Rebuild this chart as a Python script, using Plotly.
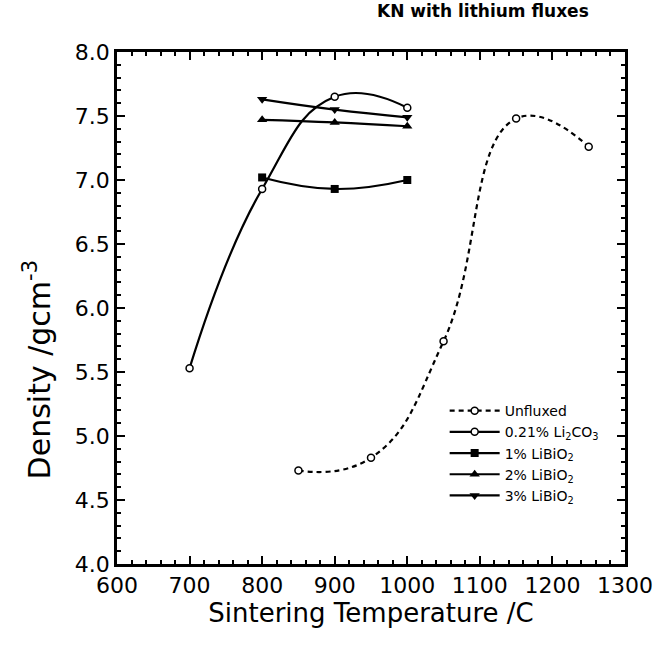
import plotly.graph_objects as go

# Data
temp_unfluxed = [850, 950, 1050, 1150, 1250]
dens_unfluxed = [4.73, 4.83, 5.74, 7.48, 7.26]

temp_li2co3 = [700, 800, 900, 1000]
dens_li2co3 = [5.53, 6.93, 7.65, 7.565]

temp_bi = [800, 900, 1000]
dens_bi1 = [7.02, 6.93, 7.00]
dens_bi2 = [7.47, 7.45, 7.42]
dens_bi3 = [7.63, 7.55, 7.49]

names = ["Unfluxed", "0.21% Li<sub>2</sub>CO<sub>3</sub>", "1% LiBiO<sub>2</sub>",
         "2% LiBiO<sub>2</sub>", "3% LiBiO<sub>2</sub>"]

FONT = "DejaVu Sans, Arial, sans-serif"
fig = go.Figure()

open_circle = dict(symbol="circle", size=7, color="white", line=dict(color="black", width=1.5))

fig.add_trace(go.Scatter(x=temp_unfluxed, y=dens_unfluxed, name=names[0], mode="lines+markers",
                         line=dict(color="black", width=2.2, dash="5px,4px", shape="spline", smoothing=1.3),
                         marker=open_circle))
fig.add_trace(go.Scatter(x=temp_li2co3, y=dens_li2co3, name=names[1], mode="lines+markers",
                         line=dict(color="black", width=2.2, shape="spline", smoothing=1.3),
                         marker=open_circle))
fig.add_trace(go.Scatter(x=temp_bi, y=dens_bi1, name=names[2], mode="lines+markers",
                         line=dict(color="black", width=2.2, shape="spline", smoothing=1.3),
                         marker=dict(symbol="square", size=8, color="black")))
fig.add_trace(go.Scatter(x=temp_bi, y=dens_bi2, name=names[3], mode="lines+markers",
                         line=dict(color="black", width=2.2, shape="spline", smoothing=1.3),
                         marker=dict(symbol="triangle-up", size=9, color="black")))
fig.add_trace(go.Scatter(x=temp_bi, y=dens_bi3, name=names[4], mode="lines+markers",
                         line=dict(color="black", width=2.2, shape="spline", smoothing=1.3),
                         marker=dict(symbol="triangle-down", size=9, color="black")))

axis_common = dict(showline=True, linecolor="black", linewidth=2.5, mirror="ticks",
                   ticks="inside", ticklen=8, tickwidth=2, tickcolor="black",
                   showgrid=False, zeroline=False,
                   tickfont=dict(family=FONT, size=22, color="black"))

fig.update_xaxes(range=[600, 1300], dtick=100, tick0=600,
                 title=dict(text="Sintering Temperature /C", font=dict(family=FONT, size=26, color="black"), standoff=4),
                 minor=dict(ticks="inside", dtick=20, ticklen=4, tickwidth=2, tickcolor="black"),
                 **axis_common)
fig.update_yaxes(range=[4.0, 8.0], dtick=0.5, tick0=4.0, tickformat=".1f",
                 minor=dict(ticks="inside", dtick=0.1, ticklen=4, tickwidth=2, tickcolor="black"),
                 **axis_common)

fig.update_layout(
    width=665, height=649,
    margin=dict(l=117, r=31, t=52, b=85),
    paper_bgcolor="white", plot_bgcolor="white",
    showlegend=True,
    legend=dict(x=0.645, y=0.33, xanchor="left", yanchor="top",
                bgcolor="rgba(0,0,0,0)", borderwidth=0,
                font=dict(family=FONT, size=14, color="black"),
                tracegroupgap=0, itemwidth=50),
)
# y-axis title placed as in the reference (shifted below the plot centre)
fig.add_annotation(text="Density /gcm<sup>-3</sup>", xref="paper", yref="paper",
                   x=(36 - 117) / 517, y=(564 - 370) / 512, xanchor="center", yanchor="middle",
                   textangle=-90, showarrow=False, font=dict(family=FONT, size=30, color="black"))
fig.add_annotation(text="<b>KN with lithium fluxes</b>", xref="paper", yref="paper",
                   x=(380 - 117) / 517, y=1 + (52 - 11) / 512, xanchor="left", yanchor="middle",
                   showarrow=False, font=dict(family=FONT, size=17, color="black"))

fig.write_html("out.html")
